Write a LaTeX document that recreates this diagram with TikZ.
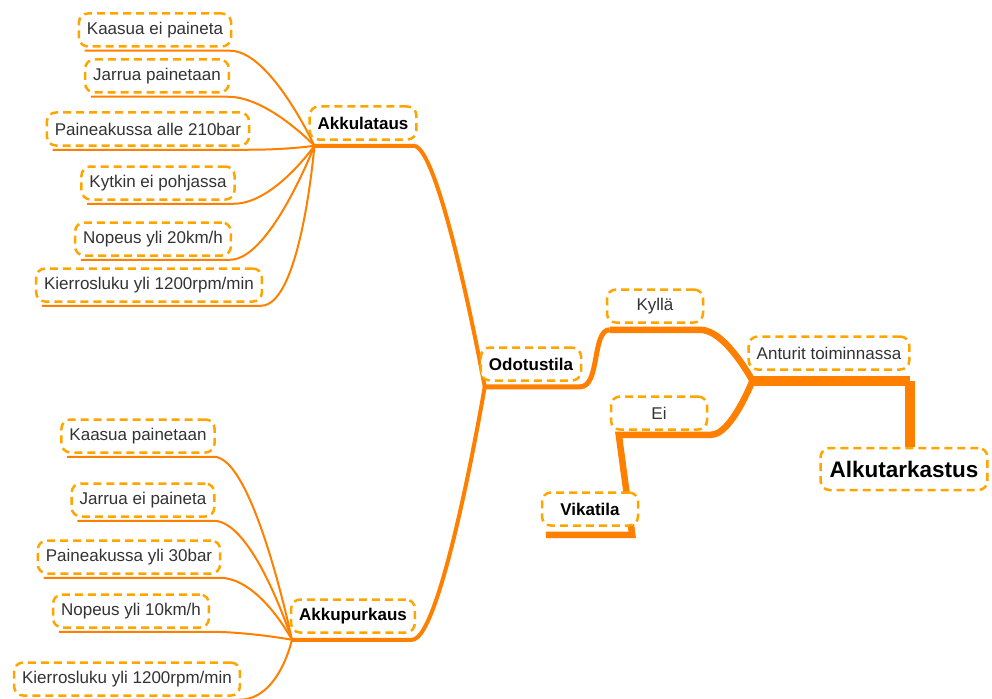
\documentclass[tikz,border=0pt]{standalone}
\usepackage{fontspec}
\setmainfont{Liberation Sans}
\usepackage{xcolor}
\usepackage{tikz}
\usetikzlibrary{calc, backgrounds}

\definecolor{branch}{RGB}{255,128,0}
\definecolor{frame}{RGB}{255,165,0}
\definecolor{txt}{RGB}{51,51,51}

\tikzset{
  topic/.style={draw=frame, line width=2.5pt, dash pattern=on 8pt off 5pt,
    rounded corners=9pt, fill=white, text=txt, inner xsep=8pt,
    minimum height=33pt, minimum width=96pt,
    font=\fontsize{17}{20}\selectfont},
  maintopic/.style={topic, text=black, font=\fontsize{17}{20}\selectfont\bfseries},
  roottopic/.style={topic, text=black, inner xsep=9pt, minimum height=42pt,
    font=\fontsize{22.5}{26}\selectfont\bfseries},
  twig/.style={draw=branch, line width=2pt},
  bough/.style={draw=branch, line width=4pt},
  limb/.style={draw=branch, line width=6.5pt},
  trunk/.style={draw=branch, line width=10pt}
}

\begin{document}
\begin{tikzpicture}[x=1pt, y=-1pt]
\useasboundingbox (0,0) rectangle (992,698);

% root and main path
\node (alku) [roottopic] at (904,469) {Alkutarkastus};
\node (anturit) [topic] at (829,353) {Anturit toiminnassa};
\node (kylla) [topic] at (655,306) {Kyllä};
\node (ei) [topic] at (659,413) {Ei};
\node (vika) [maintopic] at (590,509) {Vikatila};
\node (odotus) [maintopic] at (531,364) {Odotustila};
\node (lataus) [maintopic] at (363,123) {Akkulataus};
\node (purkaus) [maintopic] at (353,616) {Akkupurkaus};

% charging conditions
\node (lat1) [topic] at (155,30) {Kaasua ei paineta};
\node (lat2) [topic] at (157,76) {Jarrua painetaan};
\node (lat3) [topic] at (148,129) {Paineakussa alle 210bar};
\node (lat4) [topic] at (158,183) {Kytkin ei pohjassa};
\node (lat5) [topic] at (153,239) {Nopeus yli 20km/h};
\node (lat6) [topic] at (149,285) {Kierrosluku yli 1200rpm/min};

% discharging conditions
\node (pur1) [topic] at (138,436) {Kaasua painetaan};
\node (pur2) [topic] at (143,500) {Jarrua ei paineta};
\node (pur3) [topic] at (129,557) {Paineakussa yli 30bar};
\node (pur4) [topic] at (131,611) {Nopeus yli 10km/h};
\node (pur5) [topic] at (127,679) {Kierrosluku yli 1200rpm/min};

% branch hubs
\coordinate (hubJ) at ([xshift=5pt,yshift=-10pt]anturit.south west);
\coordinate (hubO) at ([xshift=5pt,yshift=-5pt]odotus.south west);
\coordinate (hubL) at ([xshift=6pt,yshift=-5pt]lataus.south west);
\coordinate (hubP) at ([xshift=2pt,yshift=-6pt]purkaus.south west);
\coordinate (kyllaL) at ([xshift=4pt,yshift=-6pt]kylla.south west);
\coordinate (eiL) at ([xshift=9pt,yshift=-4pt]ei.south west);
\coordinate (alkuT) at ([xshift=6pt]alku.north);

\begin{scope}[on background layer]
\draw[trunk] (hubJ) -- (hubJ -| alkuT);
\draw[trunk] (hubJ -| alkuT) -- (alkuT);
\draw[limb] (kyllaL) -- ([xshift=-4pt,yshift=-6pt]kylla.south east)
  .. controls +(25,0) and (hubJ) .. (hubJ);
\draw[limb] ([xshift=5pt,yshift=-8pt]vika.south west)
  -- ([xshift=-7pt,yshift=-8pt]vika.south east) -- (eiL)
  -- ([xshift=3pt,yshift=-4pt]ei.south east)
  .. controls +(20,0) and (hubJ) .. (hubJ);
\draw[line width=5pt, draw=branch] (hubO) -- ([xshift=-2pt,yshift=-5pt]odotus.south east)
  .. controls +(20,0) and +(-18,0) .. (kyllaL);
\draw[bough] (hubL) -- ([xshift=-4pt,yshift=-5pt]lataus.south east)
  .. controls +(27,0) and (hubO) .. (hubO);
\draw[bough] (hubP) -- ([xshift=-4pt,yshift=-6pt]purkaus.south east)
  .. controls +(30,0) and (hubO) .. (hubO);

\foreach \n in {lat1,lat2,lat3,lat4,lat5,lat6}
  \draw[twig] ([xshift=7pt,yshift=-3pt]\n.south west) -- ([xshift=-2pt,yshift=-3pt]\n.south east)
    .. controls +(40,0) and (hubL) .. (hubL);
\foreach \n in {pur1,pur2,pur3,pur4,pur5}
  \draw[twig] ([xshift=7pt,yshift=-3pt]\n.south west) -- ([xshift=-2pt,yshift=-3pt]\n.south east)
    .. controls +(40,0) and (hubP) .. (hubP);
\end{scope}
\end{tikzpicture}
\end{document}
